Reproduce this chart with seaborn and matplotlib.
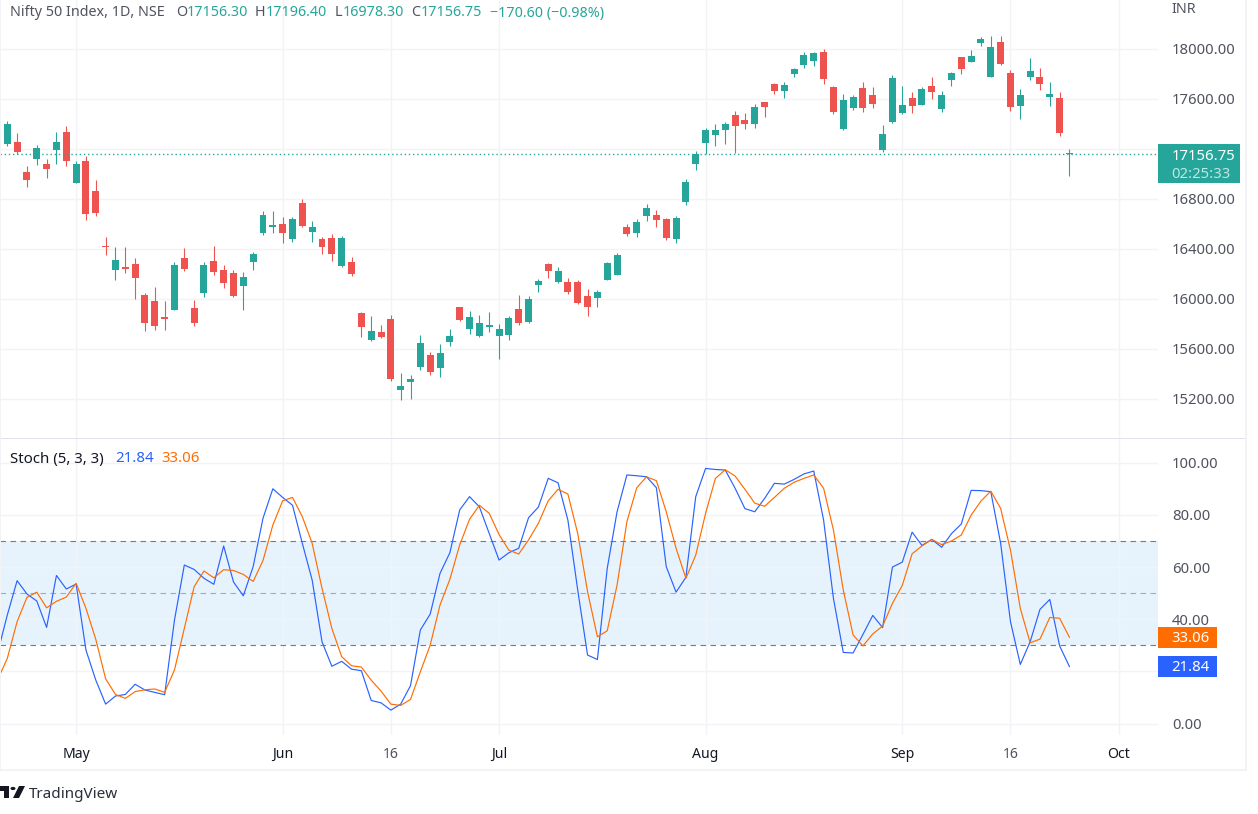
import numpy as np
import pandas as pd
import seaborn as sns
import matplotlib.pyplot as plt
from matplotlib.patches import Rectangle, Polygon, Circle

# daily Nifty 50 candles, first one is the bar cut off at the left edge
opens = [17042, 17234, 17250, 17010, 17114, 17074, 17186, 17330, 16922, 17098,
         16858, 16418, 16226, 16250, 16274, 16026, 15978, 15850, 15906, 16322,
         15922, 16042, 16298, 16226, 16202, 16098, 16290, 16522, 16570, 16594,
         16474, 16762, 16530, 16474, 16482, 16258, 16290, 15882, 15666, 15730,
         15834, 15266, 15330, 15450, 15546, 15442, 15650, 15930, 15754, 15698,
         15770, 15698, 15706, 15914, 15810, 16106, 16274, 16130, 16130, 16130,
         16018, 16002, 16146, 16186, 16570, 16522, 16658, 16666, 16634, 16474,
         16770, 17074, 17242, 17306, 17346, 17466, 17426, 17394, 17570, 17714,
         17658, 17794, 17866, 17898, 17970, 17690, 17354, 17522, 17682, 17626,
         17186, 17410, 17482, 17602, 17546, 17698, 17514, 17746, 17930, 17890,
         18042, 17770, 18050, 17802, 17538, 17770, 17770, 17610, 17602, 17156.30]
highs = [17141, 17418, 17322, 17058, 17226, 17114, 17330, 17378, 17098, 17138,
         16946, 16490, 16410, 16410, 16322, 16042, 16090, 15978, 16290, 16402,
         15986, 16290, 16418, 16266, 16226, 16210, 16370, 16698, 16698, 16650,
         16650, 16794, 16618, 16490, 16514, 16498, 16330, 15890, 15858, 15786,
         15866, 15402, 15386, 15706, 15570, 15634, 15754, 15930, 15898, 15866,
         15890, 15794, 15858, 16026, 16018, 16154, 16282, 16250, 16162, 16146,
         16074, 16066, 16290, 16362, 16594, 16634, 16754, 16706, 16642, 16658,
         16954, 17178, 17362, 17394, 17410, 17498, 17482, 17554, 17570, 17722,
         17730, 17842, 17970, 17970, 17994, 17698, 17634, 17626, 17730, 17690,
         17386, 17786, 17698, 17650, 17690, 17770, 17658, 17810, 17930, 17986,
         18090, 18098, 18098, 17826, 17674, 17922, 17842, 17730, 17650, 17196.40]
lows = [17042, 17218, 17154, 16890, 17066, 16962, 17074, 17058, 16922, 16626,
        16658, 16346, 16146, 16202, 15994, 15738, 15746, 15746, 15906, 16218,
        15778, 16010, 16186, 16082, 16010, 15906, 16226, 16506, 16522, 16442,
        16450, 16570, 16450, 16354, 16298, 16250, 16178, 15690, 15658, 15682,
        15338, 15186, 15194, 15426, 15386, 15370, 15618, 15818, 15714, 15690,
        15730, 15514, 15666, 15786, 15802, 16050, 16162, 16122, 16034, 15954,
        15858, 15930, 16146, 16186, 16498, 16490, 16618, 16570, 16466, 16442,
        16746, 17026, 17154, 17218, 17234, 17162, 17354, 17362, 17450, 17634,
        17602, 17770, 17842, 17858, 17714, 17474, 17346, 17506, 17490, 17522,
        17170, 17402, 17474, 17482, 17546, 17594, 17490, 17698, 17794, 17890,
        18018, 17770, 17866, 17498, 17434, 17746, 17666, 17538, 17298, 16978.30]
closes = [17141, 17394, 17170, 16946, 17202, 17034, 17250, 17098, 17074, 16674,
          16682, 16413, 16306, 16234, 16162, 15802, 15778, 15834, 16266, 16234,
          15802, 16266, 16210, 16122, 16018, 16170, 16354, 16666, 16586, 16522,
          16634, 16578, 16570, 16410, 16354, 16482, 16194, 15770, 15738, 15690,
          15354, 15298, 15354, 15642, 15410, 15562, 15698, 15826, 15850, 15802,
          15786, 15754, 15842, 15802, 15994, 16138, 16218, 16218, 16050, 15962,
          15930, 16050, 16282, 16346, 16514, 16610, 16722, 16626, 16482, 16642,
          16930, 17159, 17346, 17346, 17394, 17378, 17394, 17530, 17530, 17658,
          17706, 17834, 17946, 17962, 17754, 17490, 17586, 17610, 17522, 17554,
          17314, 17762, 17546, 17538, 17674, 17650, 17626, 17802, 17834, 17938,
          18074, 18010, 17874, 17530, 17626, 17818, 17714, 17634, 17322, 17156.75]

# stochastic %K and %D
stoch_k = [26.9, 41.6, 54.8, 49.7, 47.0, 36.9, 56.8, 51.6, 53.5, 28.2,
           16.7, 7.5, 10.6, 11.2, 15.1, 12.9, 12.0, 11.1, 39.7, 60.8,
           59.1, 55.7, 53.4, 68.1, 54.3, 49.0, 60.2, 78.7, 90.0, 86.7,
           83.7, 69.1, 55.0, 31.4, 22.0, 23.9, 20.9, 20.3, 8.9, 8.0,
           5.2, 7.5, 14.6, 35.9, 42.0, 57.6, 65.5, 81.9, 87.0, 83.1,
           72.9, 62.7, 65.5, 67.2, 78.9, 83.0, 94.0, 92.3, 78.0, 51.2,
           26.3, 24.6, 59.5, 81.2, 95.3, 95.0, 94.6, 90.4, 60.2, 50.4,
           56.1, 87.0, 97.8, 97.4, 97.2, 90.2, 82.4, 81.2, 86.3, 92.1,
           91.8, 93.6, 95.7, 96.8, 78.0, 48.0, 27.3, 27.1, 34.2, 41.5,
           36.8, 60.0, 61.9, 73.4, 68.3, 70.6, 67.6, 72.8, 76.5, 89.4,
           89.3, 88.9, 69.1, 39.1, 22.7, 31.4, 43.8, 47.6, 29.8, 21.84]
stoch_d = [16.7, 25.0, 39.1, 48.4, 50.4, 44.4, 46.9, 48.5, 53.8, 44.2,
           32.3, 17.2, 11.2, 9.7, 12.3, 13.0, 13.3, 12.0, 20.6, 36.5,
           52.5, 58.5, 55.9, 59.0, 58.7, 57.2, 54.5, 62.5, 76.1, 85.4,
           86.7, 79.3, 69.1, 51.9, 36.5, 25.7, 22.2, 21.7, 16.7, 12.5,
           7.5, 7.0, 9.3, 19.9, 30.1, 45.5, 55.3, 68.5, 78.3, 83.7,
           80.6, 72.5, 66.5, 65.0, 70.4, 76.8, 85.4, 89.8, 88.0, 72.9,
           50.6, 33.3, 35.6, 53.1, 77.4, 90.4, 94.6, 93.1, 81.2, 67.2,
           55.7, 64.6, 80.6, 94.0, 97.3, 94.9, 89.8, 84.5, 83.3, 86.7,
           90.2, 92.5, 94.0, 95.3, 90.2, 74.2, 51.2, 34.0, 29.8, 34.4,
           37.4, 46.1, 53.0, 65.1, 68.1, 70.6, 68.6, 70.0, 72.3, 79.9,
           85.3, 89.1, 82.5, 66.5, 44.2, 31.0, 32.4, 40.7, 40.4, 33.06]

price_ticks = [15200, 15600, 16000, 16400, 16800, 17200, 17600, 18000]
price_labels = ['15200.00', '15600.00', '16000.00', '16400.00', '16800.00', '', '17600.00', '18000.00']
stoch_ticks = [0, 20, 40, 60, 80, 100]
stoch_labels = ['0.00', '', '40.00', '60.00', '80.00', '100.00']
date_bars = [7, 28, 39, 50, 71, 91, 102, 113]
date_labels = ['May', 'Jun', '16', 'Jul', 'Aug', 'Sep', '16', 'Oct']
last_price = 17156.75

GREEN = '#26a69a'
RED = '#ef5350'
BLUE = '#2962ff'
ORANGE = '#ff6d00'
GRID = '#f2f3f6'
TEXT = '#50535e'
W, H = 1258, 814


def fx(x):
    return x / W


def fy(y):
    return 1 - y / H


def label(x, y, s, color=TEXT, size=10.3, **kw):
    # text placed by picture pixel, vertically centred
    fig.text(fx(x), fy(y), s, color=color, fontsize=size, va='center', **kw)


def box(x0, y0, x1, y1, color):
    fig.add_artist(Rectangle((fx(x0), fy(y1)), fx(x1 - x0), (y1 - y0) / H,
                             transform=fig.transFigure, color=color, lw=0))


sns.set_style('white')
plt.rcParams['font.family'] = ['Noto Sans', 'DejaVu Sans']

df = pd.DataFrame({'bar': np.arange(-1, 109), 'open': opens, 'high': highs,
                   'low': lows, 'close': closes, 'k': stoch_k, 'd': stoch_d})
df['color'] = np.where(df['close'] >= df['open'], GREEN, RED)

fig = plt.figure(figsize=(W / 100, H / 100), dpi=100, facecolor='white')
ax = fig.add_axes([0, 1 - 438 / H, 1158 / W, 438 / H])
ax2 = fig.add_axes([0, 1 - 735 / H, 1158 / W, 296 / H])

# price pane
ax.vlines(df['bar'], df['low'], df['high'], colors=df['color'], lw=0.8, zorder=3)
body = (df['close'] - df['open']).abs().clip(lower=8)
ax.bar(df['bar'], body, bottom=df[['open', 'close']].min(axis=1), width=0.71,
       color=df['color'], lw=0, zorder=4)
ax.axhline(last_price, color=GREEN, lw=1.0, ls=(0, (1, 2)), zorder=5)
ax.set_xlim(-0.74, 117)
ax.set_ylim(14884, 18390)
ax.set_yticks(price_ticks)
ax.set_yticklabels(price_labels)
ax.set_xticks(date_bars)
ax.set_xticklabels([])

# stochastic pane
ax2.axhspan(30, 70, color='#2196f3', alpha=0.11, lw=0, zorder=0)
for level, alpha in [(70, 1), (50, 0.6), (30, 1)]:
    ax2.axhline(level, color='#787b86', lw=0.8, ls=(0, (5, 4)), alpha=alpha, zorder=2)
sns.lineplot(data=df, x='bar', y='k', color=BLUE, lw=0.85, ax=ax2, zorder=3)
sns.lineplot(data=df, x='bar', y='d', color=ORANGE, lw=0.85, ax=ax2, zorder=4)
ax2.set_xlim(-0.74, 117)
ax2.set_ylim(-4.33, 109.08)
ax2.set_yticks(stoch_ticks)
ax2.set_yticklabels(stoch_labels)
ax2.set_xticks(date_bars)
ax2.set_xticklabels(date_labels, fontsize=10.1, color='#131722')
for tick, name in zip(ax2.get_xticklabels(), date_labels):
    if name == '16':
        tick.set_color(TEXT)
    else:
        tick.set_fontweight('bold')
ax2.set_xlabel('')
ax2.set_ylabel('')

for a in (ax, ax2):
    a.grid(True, color=GRID, lw=1.0)
    a.set_axisbelow(True)
    a.yaxis.tick_right()
    a.tick_params(axis='both', length=0)
    a.tick_params(axis='y', labelsize=10.7, labelcolor=TEXT, pad=10)
    a.patch.set_alpha(0)
    for side in a.spines.values():
        side.set_visible(False)
ax2.tick_params(axis='x', pad=8.5)

# frame around the panes
box(0, 438, 1245, 439, '#e0e3eb')
box(1245, 0, 1247, 771, GRID)
box(0, 769, 1247, 771, GRID)
box(0, 0, 1, 770, GRID)

# header legends
label(10, 13, 'Nifty 50 Index, 1D, NSE')
for x, s, c in [(176, 'O', TEXT), (186.5, '17156.30', GREEN), (255, 'H', TEXT),
                (265.5, '17196.40', GREEN), (334.5, 'L', TEXT), (343, '16978.30', GREEN),
                (411.5, 'C', TEXT), (421, '17156.75', GREEN),
                (490, '\u2212170.60 (\u22120.98%)', GREEN)]:
    label(x, 13, s, color=c)
label(1171, 9.5, 'INR')
label(10, 459, 'Stoch (5, 3, 3)', color='#131722', size=10.8)
label(115, 459, '21.84', color=BLUE, size=10.8)
label(161, 459, '33.06', color=ORANGE, size=10.8)

# last value tags on the scale
box(1158, 144, 1240, 183, GREEN)
label(1172, 156.5, '17156.75', color='white', size=10.7)
label(1171, 174.5, '02:25:33', color='#bfe6e2', size=10.7)
box(1158, 627, 1217, 648, ORANGE)
label(1171, 638.5, '33.06', color='white', size=10.7)
box(1158, 656, 1217, 677, BLUE)
label(1171, 667.5, '21.84', color='white', size=10.7)

# TradingView mark
def shape(points, color='#131722'):
    fig.add_artist(Polygon([(fx(x), fy(y)) for x, y in points], closed=True,
                           transform=fig.transFigure, color=color, lw=0))


shape([(0, 786), (9, 786), (9, 798), (4, 798), (4, 791), (0, 791)])
fig.add_artist(Circle((fx(13), fy(788.5)), 2.5 / W, transform=fig.transFigure,
                      color='#131722', lw=0))
shape([(19, 786), (25, 786), (19, 798), (13, 798)])
label(29, 794.5, 'TradingView', color='#2a2e39', size=11)

plt.savefig('out.png', dpi=100)
